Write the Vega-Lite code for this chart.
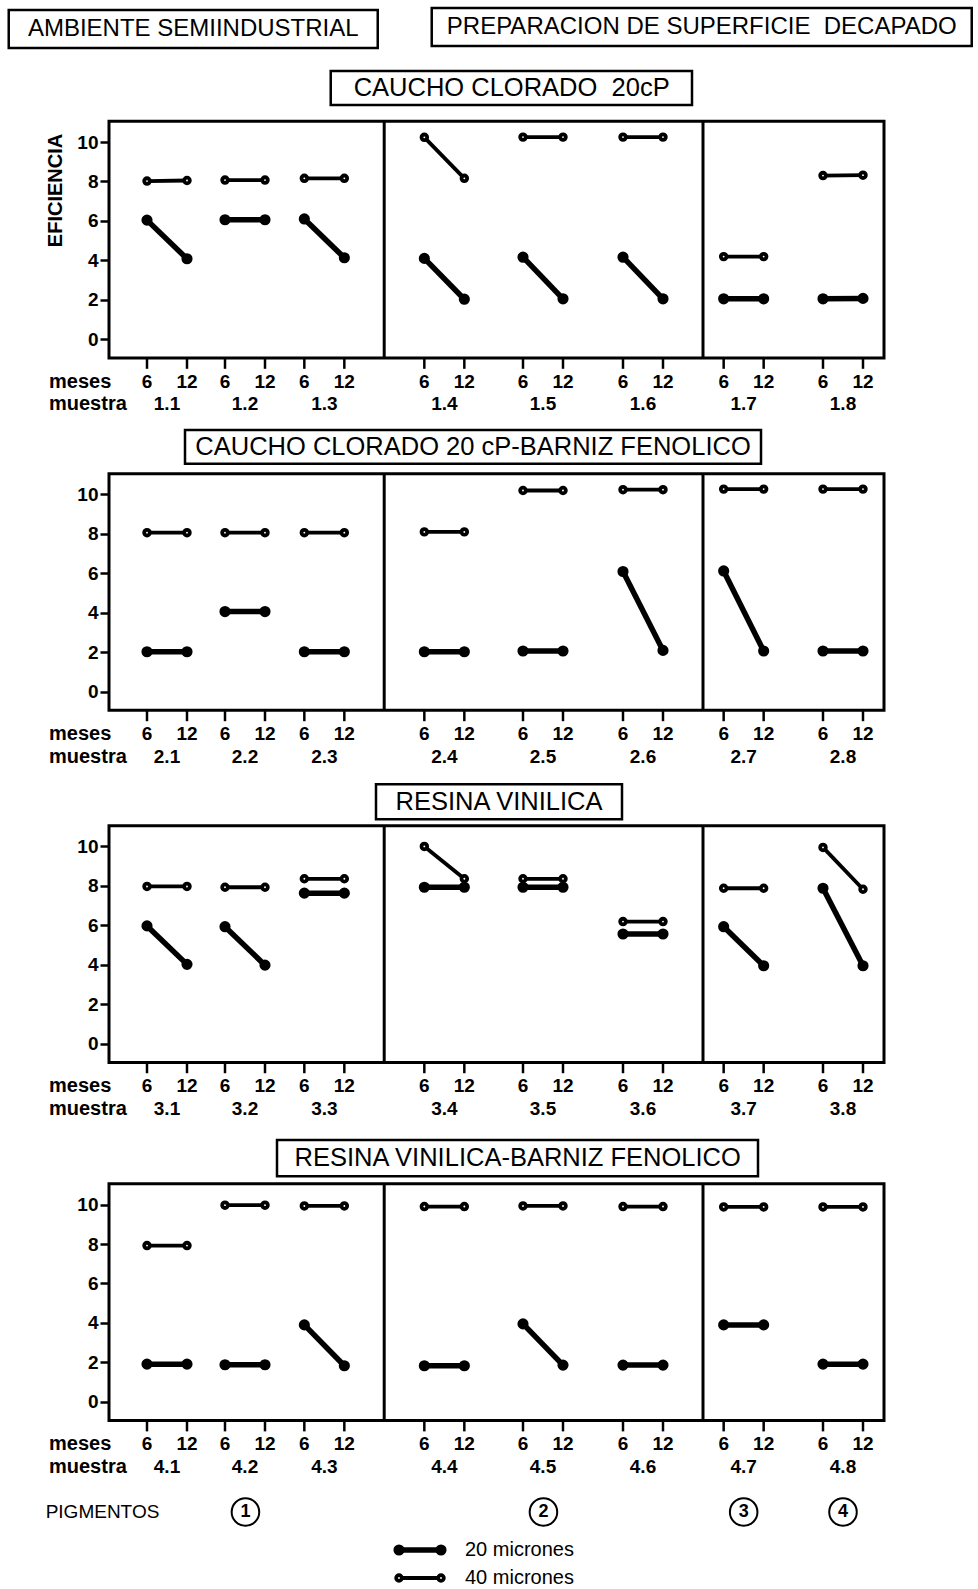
{
"$schema": "https://vega.github.io/schema/vega-lite/v6.json",
"padding": {"left": 7, "top": 4, "right": 5, "bottom": 0},
"spacing": 0,
"config": {
  "view": {"stroke": null},
  "font": "Liberation Sans",
  "axis": {"domain": false, "grid": false, "ticks": true, "tickSize": 9, "tickWidth": 2.5, "tickColor": "black", "labelFont": "Liberation Sans", "labelFontSize": 19, "labelFontWeight": "bold", "labelColor": "black", "labelPadding": 2},
  "text": {"font": "Liberation Sans", "color": "black"}
},
"datasets": {
  "paneles": [
    {"panel": 1, "titulo": "CAUCHO CLORADO\u00a0 20cP"},
    {"panel": 2, "titulo": "CAUCHO CLORADO 20 cP-BARNIZ FENOLICO"},
    {"panel": 3, "titulo": "RESINA VINILICA"},
    {"panel": 4, "titulo": "RESINA VINILICA-BARNIZ FENOLICO"}
  ],
  "leyenda": [{"espesor": "20 micrones"}, {"espesor": "40 micrones"}],
  "lineas": [
    {"panel":1,"muestra":"1.1","pigmento":1,"espesor":"20 micrones","meses":6,"t":5.7,"eficiencia":6.04},
    {"panel":1,"muestra":"1.1","pigmento":1,"espesor":"20 micrones","meses":12,"t":11.7,"eficiencia":4.08},
    {"panel":1,"muestra":"1.1","pigmento":1,"espesor":"40 micrones","meses":6,"t":5.7,"eficiencia":8.02},
    {"panel":1,"muestra":"1.1","pigmento":1,"espesor":"40 micrones","meses":12,"t":11.7,"eficiencia":8.05},
    {"panel":1,"muestra":"1.2","pigmento":1,"espesor":"20 micrones","meses":6,"t":17.4,"eficiencia":6.06},
    {"panel":1,"muestra":"1.2","pigmento":1,"espesor":"20 micrones","meses":12,"t":23.4,"eficiencia":6.06},
    {"panel":1,"muestra":"1.2","pigmento":1,"espesor":"40 micrones","meses":6,"t":17.4,"eficiencia":8.07},
    {"panel":1,"muestra":"1.2","pigmento":1,"espesor":"40 micrones","meses":12,"t":23.4,"eficiencia":8.07},
    {"panel":1,"muestra":"1.3","pigmento":1,"espesor":"20 micrones","meses":6,"t":29.3,"eficiencia":6.1},
    {"panel":1,"muestra":"1.3","pigmento":1,"espesor":"20 micrones","meses":12,"t":35.3,"eficiencia":4.13},
    {"panel":1,"muestra":"1.3","pigmento":1,"espesor":"40 micrones","meses":6,"t":29.3,"eficiencia":8.16},
    {"panel":1,"muestra":"1.3","pigmento":1,"espesor":"40 micrones","meses":12,"t":35.3,"eficiencia":8.16},
    {"panel":1,"muestra":"1.4","pigmento":2,"espesor":"20 micrones","meses":6,"t":47.3,"eficiencia":4.1},
    {"panel":1,"muestra":"1.4","pigmento":2,"espesor":"20 micrones","meses":12,"t":53.3,"eficiencia":2.03},
    {"panel":1,"muestra":"1.4","pigmento":2,"espesor":"40 micrones","meses":6,"t":47.3,"eficiencia":10.24},
    {"panel":1,"muestra":"1.4","pigmento":2,"espesor":"40 micrones","meses":12,"t":53.3,"eficiencia":8.16},
    {"panel":1,"muestra":"1.5","pigmento":2,"espesor":"20 micrones","meses":6,"t":62.1,"eficiencia":4.16},
    {"panel":1,"muestra":"1.5","pigmento":2,"espesor":"20 micrones","meses":12,"t":68.1,"eficiencia":2.05},
    {"panel":1,"muestra":"1.5","pigmento":2,"espesor":"40 micrones","meses":6,"t":62.1,"eficiencia":10.25},
    {"panel":1,"muestra":"1.5","pigmento":2,"espesor":"40 micrones","meses":12,"t":68.1,"eficiencia":10.25},
    {"panel":1,"muestra":"1.6","pigmento":2,"espesor":"20 micrones","meses":6,"t":77.1,"eficiencia":4.16},
    {"panel":1,"muestra":"1.6","pigmento":2,"espesor":"20 micrones","meses":12,"t":83.1,"eficiencia":2.05},
    {"panel":1,"muestra":"1.6","pigmento":2,"espesor":"40 micrones","meses":6,"t":77.1,"eficiencia":10.25},
    {"panel":1,"muestra":"1.6","pigmento":2,"espesor":"40 micrones","meses":12,"t":83.1,"eficiencia":10.25},
    {"panel":1,"muestra":"1.7","pigmento":3,"espesor":"20 micrones","meses":6,"t":92.2,"eficiencia":2.05},
    {"panel":1,"muestra":"1.7","pigmento":3,"espesor":"20 micrones","meses":12,"t":98.2,"eficiencia":2.05},
    {"panel":1,"muestra":"1.7","pigmento":3,"espesor":"40 micrones","meses":6,"t":92.2,"eficiencia":4.19},
    {"panel":1,"muestra":"1.7","pigmento":3,"espesor":"40 micrones","meses":12,"t":98.2,"eficiencia":4.19},
    {"panel":1,"muestra":"1.8","pigmento":4,"espesor":"20 micrones","meses":6,"t":107.1,"eficiencia":2.05},
    {"panel":1,"muestra":"1.8","pigmento":4,"espesor":"20 micrones","meses":12,"t":113.1,"eficiencia":2.07},
    {"panel":1,"muestra":"1.8","pigmento":4,"espesor":"40 micrones","meses":6,"t":107.1,"eficiencia":8.3},
    {"panel":1,"muestra":"1.8","pigmento":4,"espesor":"40 micrones","meses":12,"t":113.1,"eficiencia":8.32},

    {"panel":2,"muestra":"2.1","pigmento":1,"espesor":"20 micrones","meses":6,"t":5.7,"eficiencia":2.02},
    {"panel":2,"muestra":"2.1","pigmento":1,"espesor":"20 micrones","meses":12,"t":11.7,"eficiencia":2.02},
    {"panel":2,"muestra":"2.1","pigmento":1,"espesor":"40 micrones","meses":6,"t":5.7,"eficiencia":8.06},
    {"panel":2,"muestra":"2.1","pigmento":1,"espesor":"40 micrones","meses":12,"t":11.7,"eficiencia":8.06},
    {"panel":2,"muestra":"2.2","pigmento":1,"espesor":"20 micrones","meses":6,"t":17.4,"eficiencia":4.06},
    {"panel":2,"muestra":"2.2","pigmento":1,"espesor":"20 micrones","meses":12,"t":23.4,"eficiencia":4.06},
    {"panel":2,"muestra":"2.2","pigmento":1,"espesor":"40 micrones","meses":6,"t":17.4,"eficiencia":8.06},
    {"panel":2,"muestra":"2.2","pigmento":1,"espesor":"40 micrones","meses":12,"t":23.4,"eficiencia":8.06},
    {"panel":2,"muestra":"2.3","pigmento":1,"espesor":"20 micrones","meses":6,"t":29.3,"eficiencia":2.02},
    {"panel":2,"muestra":"2.3","pigmento":1,"espesor":"20 micrones","meses":12,"t":35.3,"eficiencia":2.02},
    {"panel":2,"muestra":"2.3","pigmento":1,"espesor":"40 micrones","meses":6,"t":29.3,"eficiencia":8.06},
    {"panel":2,"muestra":"2.3","pigmento":1,"espesor":"40 micrones","meses":12,"t":35.3,"eficiencia":8.06},
    {"panel":2,"muestra":"2.4","pigmento":2,"espesor":"20 micrones","meses":6,"t":47.3,"eficiencia":2.02},
    {"panel":2,"muestra":"2.4","pigmento":2,"espesor":"20 micrones","meses":12,"t":53.3,"eficiencia":2.02},
    {"panel":2,"muestra":"2.4","pigmento":2,"espesor":"40 micrones","meses":6,"t":47.3,"eficiencia":8.1},
    {"panel":2,"muestra":"2.4","pigmento":2,"espesor":"40 micrones","meses":12,"t":53.3,"eficiencia":8.1},
    {"panel":2,"muestra":"2.5","pigmento":2,"espesor":"20 micrones","meses":6,"t":62.1,"eficiencia":2.06},
    {"panel":2,"muestra":"2.5","pigmento":2,"espesor":"20 micrones","meses":12,"t":68.1,"eficiencia":2.06},
    {"panel":2,"muestra":"2.5","pigmento":2,"espesor":"40 micrones","meses":6,"t":62.1,"eficiencia":10.2},
    {"panel":2,"muestra":"2.5","pigmento":2,"espesor":"40 micrones","meses":12,"t":68.1,"eficiencia":10.2},
    {"panel":2,"muestra":"2.6","pigmento":2,"espesor":"20 micrones","meses":6,"t":77.1,"eficiencia":6.09},
    {"panel":2,"muestra":"2.6","pigmento":2,"espesor":"20 micrones","meses":12,"t":83.1,"eficiencia":2.09},
    {"panel":2,"muestra":"2.6","pigmento":2,"espesor":"40 micrones","meses":6,"t":77.1,"eficiencia":10.24},
    {"panel":2,"muestra":"2.6","pigmento":2,"espesor":"40 micrones","meses":12,"t":83.1,"eficiencia":10.24},
    {"panel":2,"muestra":"2.7","pigmento":3,"espesor":"20 micrones","meses":6,"t":92.2,"eficiencia":6.12},
    {"panel":2,"muestra":"2.7","pigmento":3,"espesor":"20 micrones","meses":12,"t":98.2,"eficiencia":2.06},
    {"panel":2,"muestra":"2.7","pigmento":3,"espesor":"40 micrones","meses":6,"t":92.2,"eficiencia":10.27},
    {"panel":2,"muestra":"2.7","pigmento":3,"espesor":"40 micrones","meses":12,"t":98.2,"eficiencia":10.27},
    {"panel":2,"muestra":"2.8","pigmento":4,"espesor":"20 micrones","meses":6,"t":107.1,"eficiencia":2.06},
    {"panel":2,"muestra":"2.8","pigmento":4,"espesor":"20 micrones","meses":12,"t":113.1,"eficiencia":2.06},
    {"panel":2,"muestra":"2.8","pigmento":4,"espesor":"40 micrones","meses":6,"t":107.1,"eficiencia":10.27},
    {"panel":2,"muestra":"2.8","pigmento":4,"espesor":"40 micrones","meses":12,"t":113.1,"eficiencia":10.27},

    {"panel":3,"muestra":"3.1","pigmento":1,"espesor":"20 micrones","meses":6,"t":5.7,"eficiencia":5.97},
    {"panel":3,"muestra":"3.1","pigmento":1,"espesor":"20 micrones","meses":12,"t":11.7,"eficiencia":4.02},
    {"panel":3,"muestra":"3.1","pigmento":1,"espesor":"40 micrones","meses":6,"t":5.7,"eficiencia":7.97},
    {"panel":3,"muestra":"3.1","pigmento":1,"espesor":"40 micrones","meses":12,"t":11.7,"eficiencia":7.97},
    {"panel":3,"muestra":"3.2","pigmento":1,"espesor":"20 micrones","meses":6,"t":17.4,"eficiencia":5.93},
    {"panel":3,"muestra":"3.2","pigmento":1,"espesor":"20 micrones","meses":12,"t":23.4,"eficiencia":3.98},
    {"panel":3,"muestra":"3.2","pigmento":1,"espesor":"40 micrones","meses":6,"t":17.4,"eficiencia":7.93},
    {"panel":3,"muestra":"3.2","pigmento":1,"espesor":"40 micrones","meses":12,"t":23.4,"eficiencia":7.93},
    {"panel":3,"muestra":"3.3","pigmento":1,"espesor":"20 micrones","meses":6,"t":29.3,"eficiencia":7.63},
    {"panel":3,"muestra":"3.3","pigmento":1,"espesor":"20 micrones","meses":12,"t":35.3,"eficiencia":7.63},
    {"panel":3,"muestra":"3.3","pigmento":1,"espesor":"40 micrones","meses":6,"t":29.3,"eficiencia":8.36},
    {"panel":3,"muestra":"3.3","pigmento":1,"espesor":"40 micrones","meses":12,"t":35.3,"eficiencia":8.36},
    {"panel":3,"muestra":"3.4","pigmento":2,"espesor":"20 micrones","meses":6,"t":47.3,"eficiencia":7.93},
    {"panel":3,"muestra":"3.4","pigmento":2,"espesor":"20 micrones","meses":12,"t":53.3,"eficiencia":7.93},
    {"panel":3,"muestra":"3.4","pigmento":2,"espesor":"40 micrones","meses":6,"t":47.3,"eficiencia":10.0},
    {"panel":3,"muestra":"3.4","pigmento":2,"espesor":"40 micrones","meses":12,"t":53.3,"eficiencia":8.36},
    {"panel":3,"muestra":"3.5","pigmento":2,"espesor":"20 micrones","meses":6,"t":62.1,"eficiencia":7.93},
    {"panel":3,"muestra":"3.5","pigmento":2,"espesor":"20 micrones","meses":12,"t":68.1,"eficiencia":7.93},
    {"panel":3,"muestra":"3.5","pigmento":2,"espesor":"40 micrones","meses":6,"t":62.1,"eficiencia":8.36},
    {"panel":3,"muestra":"3.5","pigmento":2,"espesor":"40 micrones","meses":12,"t":68.1,"eficiencia":8.36},
    {"panel":3,"muestra":"3.6","pigmento":2,"espesor":"20 micrones","meses":6,"t":77.1,"eficiencia":5.56},
    {"panel":3,"muestra":"3.6","pigmento":2,"espesor":"20 micrones","meses":12,"t":83.1,"eficiencia":5.56},
    {"panel":3,"muestra":"3.6","pigmento":2,"espesor":"40 micrones","meses":6,"t":77.1,"eficiencia":6.19},
    {"panel":3,"muestra":"3.6","pigmento":2,"espesor":"40 micrones","meses":12,"t":83.1,"eficiencia":6.19},
    {"panel":3,"muestra":"3.7","pigmento":3,"espesor":"20 micrones","meses":6,"t":92.2,"eficiencia":5.93},
    {"panel":3,"muestra":"3.7","pigmento":3,"espesor":"20 micrones","meses":12,"t":98.2,"eficiencia":3.95},
    {"panel":3,"muestra":"3.7","pigmento":3,"espesor":"40 micrones","meses":6,"t":92.2,"eficiencia":7.88},
    {"panel":3,"muestra":"3.7","pigmento":3,"espesor":"40 micrones","meses":12,"t":98.2,"eficiencia":7.88},
    {"panel":3,"muestra":"3.8","pigmento":4,"espesor":"20 micrones","meses":6,"t":107.1,"eficiencia":7.88},
    {"panel":3,"muestra":"3.8","pigmento":4,"espesor":"20 micrones","meses":12,"t":113.1,"eficiencia":3.95},
    {"panel":3,"muestra":"3.8","pigmento":4,"espesor":"40 micrones","meses":6,"t":107.1,"eficiencia":9.95},
    {"panel":3,"muestra":"3.8","pigmento":4,"espesor":"40 micrones","meses":12,"t":113.1,"eficiencia":7.83},

    {"panel":4,"muestra":"4.1","pigmento":1,"espesor":"20 micrones","meses":6,"t":5.7,"eficiencia":1.91},
    {"panel":4,"muestra":"4.1","pigmento":1,"espesor":"20 micrones","meses":12,"t":11.7,"eficiencia":1.91},
    {"panel":4,"muestra":"4.1","pigmento":1,"espesor":"40 micrones","meses":6,"t":5.7,"eficiencia":7.92},
    {"panel":4,"muestra":"4.1","pigmento":1,"espesor":"40 micrones","meses":12,"t":11.7,"eficiencia":7.92},
    {"panel":4,"muestra":"4.2","pigmento":1,"espesor":"20 micrones","meses":6,"t":17.4,"eficiencia":1.88},
    {"panel":4,"muestra":"4.2","pigmento":1,"espesor":"20 micrones","meses":12,"t":23.4,"eficiencia":1.88},
    {"panel":4,"muestra":"4.2","pigmento":1,"espesor":"40 micrones","meses":6,"t":17.4,"eficiencia":9.97},
    {"panel":4,"muestra":"4.2","pigmento":1,"espesor":"40 micrones","meses":12,"t":23.4,"eficiencia":9.97},
    {"panel":4,"muestra":"4.3","pigmento":1,"espesor":"20 micrones","meses":6,"t":29.3,"eficiencia":3.9},
    {"panel":4,"muestra":"4.3","pigmento":1,"espesor":"20 micrones","meses":12,"t":35.3,"eficiencia":1.83},
    {"panel":4,"muestra":"4.3","pigmento":1,"espesor":"40 micrones","meses":6,"t":29.3,"eficiencia":9.93},
    {"panel":4,"muestra":"4.3","pigmento":1,"espesor":"40 micrones","meses":12,"t":35.3,"eficiencia":9.93},
    {"panel":4,"muestra":"4.4","pigmento":2,"espesor":"20 micrones","meses":6,"t":47.3,"eficiencia":1.83},
    {"panel":4,"muestra":"4.4","pigmento":2,"espesor":"20 micrones","meses":12,"t":53.3,"eficiencia":1.83},
    {"panel":4,"muestra":"4.4","pigmento":2,"espesor":"40 micrones","meses":6,"t":47.3,"eficiencia":9.9},
    {"panel":4,"muestra":"4.4","pigmento":2,"espesor":"40 micrones","meses":12,"t":53.3,"eficiencia":9.9},
    {"panel":4,"muestra":"4.5","pigmento":2,"espesor":"20 micrones","meses":6,"t":62.1,"eficiencia":3.95},
    {"panel":4,"muestra":"4.5","pigmento":2,"espesor":"20 micrones","meses":12,"t":68.1,"eficiencia":1.86},
    {"panel":4,"muestra":"4.5","pigmento":2,"espesor":"40 micrones","meses":6,"t":62.1,"eficiencia":9.93},
    {"panel":4,"muestra":"4.5","pigmento":2,"espesor":"40 micrones","meses":12,"t":68.1,"eficiencia":9.93},
    {"panel":4,"muestra":"4.6","pigmento":2,"espesor":"20 micrones","meses":6,"t":77.1,"eficiencia":1.86},
    {"panel":4,"muestra":"4.6","pigmento":2,"espesor":"20 micrones","meses":12,"t":83.1,"eficiencia":1.86},
    {"panel":4,"muestra":"4.6","pigmento":2,"espesor":"40 micrones","meses":6,"t":77.1,"eficiencia":9.9},
    {"panel":4,"muestra":"4.6","pigmento":2,"espesor":"40 micrones","meses":12,"t":83.1,"eficiencia":9.9},
    {"panel":4,"muestra":"4.7","pigmento":3,"espesor":"20 micrones","meses":6,"t":92.2,"eficiencia":3.9},
    {"panel":4,"muestra":"4.7","pigmento":3,"espesor":"20 micrones","meses":12,"t":98.2,"eficiencia":3.9},
    {"panel":4,"muestra":"4.7","pigmento":3,"espesor":"40 micrones","meses":6,"t":92.2,"eficiencia":9.88},
    {"panel":4,"muestra":"4.7","pigmento":3,"espesor":"40 micrones","meses":12,"t":98.2,"eficiencia":9.88},
    {"panel":4,"muestra":"4.8","pigmento":4,"espesor":"20 micrones","meses":6,"t":107.1,"eficiencia":1.91},
    {"panel":4,"muestra":"4.8","pigmento":4,"espesor":"20 micrones","meses":12,"t":113.1,"eficiencia":1.91},
    {"panel":4,"muestra":"4.8","pigmento":4,"espesor":"40 micrones","meses":6,"t":107.1,"eficiencia":9.88},
    {"panel":4,"muestra":"4.8","pigmento":4,"espesor":"40 micrones","meses":12,"t":113.1,"eficiencia":9.88}
  ]
},
"vconcat": [
  {
    "width": 775, "height": 422,
    "data": {"name": "paneles"},
    "transform": [{"filter": "datum.panel == 1"}],
    "layer": [
      {"mark": {"type": "rect", "filled": false, "color": "black", "strokeWidth": 3},
       "encoding": {"x": {"datum": 0, "type": "quantitative", "scale": {"domain": [0, 116.25], "nice": false, "zero": false}, "axis": null}, "x2": {"datum": 116.25},
                    "y": {"datum": -0.95, "type": "quantitative", "scale": {"domain": [-4.4, 17.0], "nice": false, "zero": false},
                          "axis": {"values": [0, 2, 4, 6, 8, 10], "title": "EFICIENCIA", "titleX": -54, "titleY": 186, "titleAngle": 270, "titleAlign": "center", "titleBaseline": "middle", "titleFontSize": 20, "titleFontWeight": "bold", "titleColor": "black", "titleFont": "Liberation Sans"}},
                    "y2": {"datum": 11.05}}},
      {"mark": {"type": "rect", "filled": false, "color": "black", "strokeWidth": 2.5},
       "encoding": {"x": {"datum": -15.04, "type": "quantitative", "axis": null}, "x2": {"datum": 40.31}, "y": {"datum": 14.77, "type": "quantitative"}, "y2": {"datum": 16.7}}},
      {"mark": {"type": "text", "fontSize": 24, "baseline": "middle", "align": "center"},
       "encoding": {"x": {"datum": 12.64, "type": "quantitative", "axis": null}, "y": {"datum": 15.73, "type": "quantitative"}, "text": {"value": "AMBIENTE SEMIINDUSTRIAL"}}},
      {"mark": {"type": "rect", "filled": false, "color": "black", "strokeWidth": 2.5},
       "encoding": {"x": {"datum": 48.41, "type": "quantitative", "axis": null}, "x2": {"datum": 129.41}, "y": {"datum": 14.87, "type": "quantitative"}, "y2": {"datum": 16.8}}},
      {"mark": {"type": "text", "fontSize": 24, "baseline": "middle", "align": "center"},
       "encoding": {"x": {"datum": 88.91, "type": "quantitative", "axis": null}, "y": {"datum": 15.83, "type": "quantitative"}, "text": {"value": "PREPARACION DE SUPERFICIE\u00a0 DECAPADO"}}},
      {"mark": {"type": "rule", "color": "black", "strokeWidth": 3},
       "encoding": {"x": {"datum": 41.28, "type": "quantitative", "axis": null}, "y": {"datum": -0.95, "type": "quantitative"}, "y2": {"datum": 11.05}}},
      {"mark": {"type": "rule", "color": "black", "strokeWidth": 3},
       "encoding": {"x": {"datum": 89.1, "type": "quantitative", "axis": null}, "y": {"datum": -0.95, "type": "quantitative"}, "y2": {"datum": 11.05}}},
      {"mark": {"type": "rect", "filled": false, "color": "black", "strokeWidth": 2.5},
       "encoding": {"x": {"datum": 33.26, "type": "quantitative", "axis": null}, "x2": {"datum": 87.45}, "y": {"datum": 11.88, "type": "quantitative"}, "y2": {"datum": 13.6}}},
      {"mark": {"type": "text", "fontSize": 25.5, "baseline": "middle", "align": "center"},
       "encoding": {"x": {"datum": 60.4, "type": "quantitative", "axis": null}, "y": {"datum": 12.74, "type": "quantitative"}, "text": {"field": "titulo"}}},
      {"mark": {"type": "text", "fontSize": 20, "fontWeight": "bold", "align": "left", "baseline": "middle"},
       "encoding": {"x": {"datum": -9, "type": "quantitative", "axis": null}, "y": {"datum": -2.15, "type": "quantitative"}, "text": {"value": "meses"}}},
      {"mark": {"type": "text", "fontSize": 20, "fontWeight": "bold", "align": "left", "baseline": "middle"},
       "encoding": {"x": {"datum": -9, "type": "quantitative", "axis": null}, "y": {"datum": -3.3, "type": "quantitative"}, "text": {"value": "muestra"}}},
      {"data": {"name": "lineas"},
       "transform": [{"filter": "datum.panel == 1"}, {"aggregate": [{"op": "count", "as": "n"}], "groupby": ["t", "meses"]}],
       "layer": [
         {"mark": {"type": "rule", "color": "black", "strokeWidth": 2.5},
          "encoding": {"x": {"field": "t", "type": "quantitative", "axis": null}, "y": {"datum": -0.95, "type": "quantitative"}, "y2": {"datum": -1.5}}},
         {"mark": {"type": "text", "fontSize": 19, "fontWeight": "bold", "baseline": "middle", "align": "center"},
          "encoding": {"x": {"field": "t", "type": "quantitative", "axis": null}, "y": {"datum": -2.15, "type": "quantitative"}, "text": {"field": "meses"}}}
       ]},
      {"data": {"name": "lineas"},
       "transform": [{"filter": "datum.panel == 1"}, {"aggregate": [{"op": "mean", "field": "t", "as": "tc"}], "groupby": ["muestra"]}],
       "mark": {"type": "text", "fontSize": 19, "fontWeight": "bold", "baseline": "middle", "align": "center"},
       "encoding": {"x": {"field": "tc", "type": "quantitative", "axis": null}, "y": {"datum": -3.3, "type": "quantitative"}, "text": {"field": "muestra"}}},
      {"data": {"name": "lineas"},
       "transform": [{"filter": "datum.panel == 1"}],
       "layer": [
         {"mark": {"type": "line", "color": "black"},
          "encoding": {
            "x": {"field": "t", "type": "quantitative", "axis": null},
            "y": {"field": "eficiencia", "type": "quantitative"},
            "detail": {"field": "muestra"},
            "strokeWidth": {"field": "espesor", "type": "nominal", "scale": {"type": "ordinal", "domain": ["20 micrones", "40 micrones"], "range": [5.5, 3.8]}, "legend": null}}},
         {"mark": {"type": "point", "shape": "circle", "filled": true, "stroke": "black", "size": 32, "opacity": 1},
          "encoding": {
            "x": {"field": "t", "type": "quantitative", "axis": null},
            "y": {"field": "eficiencia", "type": "quantitative"},
            "fill": {"field": "espesor", "type": "nominal", "scale": {"domain": ["20 micrones", "40 micrones"], "range": ["black", "white"]}, "legend": null},
            "strokeWidth": {"field": "espesor", "type": "nominal", "scale": {"type": "ordinal", "domain": ["20 micrones", "40 micrones"], "range": [5.5, 3.8]}, "legend": null}}}
       ]}
    ]
  },
  {
    "width": 775, "height": 352,
    "data": {"name": "paneles"},
    "transform": [{"filter": "datum.panel == 2"}],
    "layer": [
      {"mark": {"type": "rect", "filled": false, "color": "black", "strokeWidth": 3},
       "encoding": {"x": {"datum": 0, "type": "quantitative", "scale": {"domain": [0, 116.25], "nice": false, "zero": false}, "axis": null}, "x2": {"datum": 116.25},
                    "y": {"datum": -0.95, "type": "quantitative", "scale": {"domain": [-4.38, 13.47], "nice": false, "zero": false}, "axis": {"values": [0, 2, 4, 6, 8, 10], "title": null}},
                    "y2": {"datum": 11.05}}},
      {"mark": {"type": "rule", "color": "black", "strokeWidth": 3},
       "encoding": {"x": {"datum": 41.28, "type": "quantitative", "axis": null}, "y": {"datum": -0.95, "type": "quantitative"}, "y2": {"datum": 11.05}}},
      {"mark": {"type": "rule", "color": "black", "strokeWidth": 3},
       "encoding": {"x": {"datum": 89.1, "type": "quantitative", "axis": null}, "y": {"datum": -0.95, "type": "quantitative"}, "y2": {"datum": 11.05}}},
      {"mark": {"type": "rect", "filled": false, "color": "black", "strokeWidth": 2.5},
       "encoding": {"x": {"datum": 11.4, "type": "quantitative", "axis": null}, "x2": {"datum": 97.8}, "y": {"datum": 11.55, "type": "quantitative"}, "y2": {"datum": 13.27}}},
      {"mark": {"type": "text", "fontSize": 25.5, "baseline": "middle", "align": "center"},
       "encoding": {"x": {"datum": 54.6, "type": "quantitative", "axis": null}, "y": {"datum": 12.41, "type": "quantitative"}, "text": {"field": "titulo"}}},
      {"mark": {"type": "text", "fontSize": 20, "fontWeight": "bold", "align": "left", "baseline": "middle"},
       "encoding": {"x": {"datum": -9, "type": "quantitative", "axis": null}, "y": {"datum": -2.15, "type": "quantitative"}, "text": {"value": "meses"}}},
      {"mark": {"type": "text", "fontSize": 20, "fontWeight": "bold", "align": "left", "baseline": "middle"},
       "encoding": {"x": {"datum": -9, "type": "quantitative", "axis": null}, "y": {"datum": -3.3, "type": "quantitative"}, "text": {"value": "muestra"}}},
      {"data": {"name": "lineas"},
       "transform": [{"filter": "datum.panel == 2"}, {"aggregate": [{"op": "count", "as": "n"}], "groupby": ["t", "meses"]}],
       "layer": [
         {"mark": {"type": "rule", "color": "black", "strokeWidth": 2.5},
          "encoding": {"x": {"field": "t", "type": "quantitative", "axis": null}, "y": {"datum": -0.95, "type": "quantitative"}, "y2": {"datum": -1.5}}},
         {"mark": {"type": "text", "fontSize": 19, "fontWeight": "bold", "baseline": "middle", "align": "center"},
          "encoding": {"x": {"field": "t", "type": "quantitative", "axis": null}, "y": {"datum": -2.15, "type": "quantitative"}, "text": {"field": "meses"}}}
       ]},
      {"data": {"name": "lineas"},
       "transform": [{"filter": "datum.panel == 2"}, {"aggregate": [{"op": "mean", "field": "t", "as": "tc"}], "groupby": ["muestra"]}],
       "mark": {"type": "text", "fontSize": 19, "fontWeight": "bold", "baseline": "middle", "align": "center"},
       "encoding": {"x": {"field": "tc", "type": "quantitative", "axis": null}, "y": {"datum": -3.3, "type": "quantitative"}, "text": {"field": "muestra"}}},
      {"data": {"name": "lineas"},
       "transform": [{"filter": "datum.panel == 2"}],
       "layer": [
         {"mark": {"type": "line", "color": "black"},
          "encoding": {
            "x": {"field": "t", "type": "quantitative", "axis": null},
            "y": {"field": "eficiencia", "type": "quantitative"},
            "detail": {"field": "muestra"},
            "strokeWidth": {"field": "espesor", "type": "nominal", "scale": {"type": "ordinal", "domain": ["20 micrones", "40 micrones"], "range": [5.5, 3.8]}, "legend": null}}},
         {"mark": {"type": "point", "shape": "circle", "filled": true, "stroke": "black", "size": 32, "opacity": 1},
          "encoding": {
            "x": {"field": "t", "type": "quantitative", "axis": null},
            "y": {"field": "eficiencia", "type": "quantitative"},
            "fill": {"field": "espesor", "type": "nominal", "scale": {"domain": ["20 micrones", "40 micrones"], "range": ["black", "white"]}, "legend": null},
            "strokeWidth": {"field": "espesor", "type": "nominal", "scale": {"type": "ordinal", "domain": ["20 micrones", "40 micrones"], "range": [5.5, 3.8]}, "legend": null}}}
       ]}
    ]
  },
  {
    "width": 775, "height": 354,
    "data": {"name": "paneles"},
    "transform": [{"filter": "datum.panel == 3"}],
    "layer": [
      {"mark": {"type": "rect", "filled": false, "color": "black", "strokeWidth": 3},
       "encoding": {"x": {"datum": 0, "type": "quantitative", "scale": {"domain": [0, 116.25], "nice": false, "zero": false}, "axis": null}, "x2": {"datum": 116.25},
                    "y": {"datum": -0.95, "type": "quantitative", "scale": {"domain": [-4.48, 13.47], "nice": false, "zero": false}, "axis": {"values": [0, 2, 4, 6, 8, 10], "title": null}},
                    "y2": {"datum": 11.05}}},
      {"mark": {"type": "rule", "color": "black", "strokeWidth": 3},
       "encoding": {"x": {"datum": 41.28, "type": "quantitative", "axis": null}, "y": {"datum": -0.95, "type": "quantitative"}, "y2": {"datum": 11.05}}},
      {"mark": {"type": "rule", "color": "black", "strokeWidth": 3},
       "encoding": {"x": {"datum": 89.1, "type": "quantitative", "axis": null}, "y": {"datum": -0.95, "type": "quantitative"}, "y2": {"datum": 11.05}}},
      {"mark": {"type": "rect", "filled": false, "color": "black", "strokeWidth": 2.5},
       "encoding": {"x": {"datum": 40.05, "type": "quantitative", "axis": null}, "x2": {"datum": 76.95}, "y": {"datum": 11.38, "type": "quantitative"}, "y2": {"datum": 13.15}}},
      {"mark": {"type": "text", "fontSize": 25.5, "baseline": "middle", "align": "center"},
       "encoding": {"x": {"datum": 58.5, "type": "quantitative", "axis": null}, "y": {"datum": 12.27, "type": "quantitative"}, "text": {"field": "titulo"}}},
      {"mark": {"type": "text", "fontSize": 20, "fontWeight": "bold", "align": "left", "baseline": "middle"},
       "encoding": {"x": {"datum": -9, "type": "quantitative", "axis": null}, "y": {"datum": -2.15, "type": "quantitative"}, "text": {"value": "meses"}}},
      {"mark": {"type": "text", "fontSize": 20, "fontWeight": "bold", "align": "left", "baseline": "middle"},
       "encoding": {"x": {"datum": -9, "type": "quantitative", "axis": null}, "y": {"datum": -3.3, "type": "quantitative"}, "text": {"value": "muestra"}}},
      {"data": {"name": "lineas"},
       "transform": [{"filter": "datum.panel == 3"}, {"aggregate": [{"op": "count", "as": "n"}], "groupby": ["t", "meses"]}],
       "layer": [
         {"mark": {"type": "rule", "color": "black", "strokeWidth": 2.5},
          "encoding": {"x": {"field": "t", "type": "quantitative", "axis": null}, "y": {"datum": -0.95, "type": "quantitative"}, "y2": {"datum": -1.5}}},
         {"mark": {"type": "text", "fontSize": 19, "fontWeight": "bold", "baseline": "middle", "align": "center"},
          "encoding": {"x": {"field": "t", "type": "quantitative", "axis": null}, "y": {"datum": -2.15, "type": "quantitative"}, "text": {"field": "meses"}}}
       ]},
      {"data": {"name": "lineas"},
       "transform": [{"filter": "datum.panel == 3"}, {"aggregate": [{"op": "mean", "field": "t", "as": "tc"}], "groupby": ["muestra"]}],
       "mark": {"type": "text", "fontSize": 19, "fontWeight": "bold", "baseline": "middle", "align": "center"},
       "encoding": {"x": {"field": "tc", "type": "quantitative", "axis": null}, "y": {"datum": -3.3, "type": "quantitative"}, "text": {"field": "muestra"}}},
      {"data": {"name": "lineas"},
       "transform": [{"filter": "datum.panel == 3"}],
       "layer": [
         {"mark": {"type": "line", "color": "black"},
          "encoding": {
            "x": {"field": "t", "type": "quantitative", "axis": null},
            "y": {"field": "eficiencia", "type": "quantitative"},
            "detail": {"field": "muestra"},
            "strokeWidth": {"field": "espesor", "type": "nominal", "scale": {"type": "ordinal", "domain": ["20 micrones", "40 micrones"], "range": [5.5, 3.8]}, "legend": null}}},
         {"mark": {"type": "point", "shape": "circle", "filled": true, "stroke": "black", "size": 32, "opacity": 1},
          "encoding": {
            "x": {"field": "t", "type": "quantitative", "axis": null},
            "y": {"field": "eficiencia", "type": "quantitative"},
            "fill": {"field": "espesor", "type": "nominal", "scale": {"domain": ["20 micrones", "40 micrones"], "range": ["black", "white"]}, "legend": null},
            "strokeWidth": {"field": "espesor", "type": "nominal", "scale": {"type": "ordinal", "domain": ["20 micrones", "40 micrones"], "range": [5.5, 3.8]}, "legend": null}}}
       ]}
    ]
  },
  {
    "width": 775, "height": 398,
    "data": {"name": "paneles"},
    "transform": [{"filter": "datum.panel == 4"}],
    "layer": [
      {"mark": {"type": "rect", "filled": false, "color": "black", "strokeWidth": 3},
       "encoding": {"x": {"datum": 0, "type": "quantitative", "scale": {"domain": [0, 116.25], "nice": false, "zero": false}, "axis": null}, "x2": {"datum": 116.25},
                    "y": {"datum": -0.95, "type": "quantitative", "scale": {"domain": [-6.5, 13.68], "nice": false, "zero": false}, "axis": {"values": [0, 2, 4, 6, 8, 10], "title": null}},
                    "y2": {"datum": 11.05}}},
      {"mark": {"type": "rule", "color": "black", "strokeWidth": 3},
       "encoding": {"x": {"datum": 41.28, "type": "quantitative", "axis": null}, "y": {"datum": -0.95, "type": "quantitative"}, "y2": {"datum": 11.05}}},
      {"mark": {"type": "rule", "color": "black", "strokeWidth": 3},
       "encoding": {"x": {"datum": 89.1, "type": "quantitative", "axis": null}, "y": {"datum": -0.95, "type": "quantitative"}, "y2": {"datum": 11.05}}},
      {"mark": {"type": "rect", "filled": false, "color": "black", "strokeWidth": 2.5},
       "encoding": {"x": {"datum": 25.2, "type": "quantitative", "axis": null}, "x2": {"datum": 97.35}, "y": {"datum": 11.44, "type": "quantitative"}, "y2": {"datum": 13.27}}},
      {"mark": {"type": "text", "fontSize": 25.5, "baseline": "middle", "align": "center"},
       "encoding": {"x": {"datum": 61.3, "type": "quantitative", "axis": null}, "y": {"datum": 12.36, "type": "quantitative"}, "text": {"field": "titulo"}}},
      {"mark": {"type": "text", "fontSize": 20, "fontWeight": "bold", "align": "left", "baseline": "middle"},
       "encoding": {"x": {"datum": -9, "type": "quantitative", "axis": null}, "y": {"datum": -2.15, "type": "quantitative"}, "text": {"value": "meses"}}},
      {"mark": {"type": "text", "fontSize": 20, "fontWeight": "bold", "align": "left", "baseline": "middle"},
       "encoding": {"x": {"datum": -9, "type": "quantitative", "axis": null}, "y": {"datum": -3.3, "type": "quantitative"}, "text": {"value": "muestra"}}},
      {"mark": {"type": "text", "fontSize": 19, "align": "left", "baseline": "middle"},
       "encoding": {"x": {"datum": -9.5, "type": "quantitative", "axis": null}, "y": {"datum": -5.59, "type": "quantitative"}, "text": {"value": "PIGMENTOS"}}},
      {"data": {"name": "lineas"},
       "transform": [{"filter": "datum.panel == 4"}, {"aggregate": [{"op": "mean", "field": "t", "as": "tp"}], "groupby": ["pigmento"]}],
       "layer": [
         {"mark": {"type": "point", "shape": "circle", "filled": false, "color": "black", "strokeWidth": 2, "size": 760, "opacity": 1},
          "encoding": {"x": {"field": "tp", "type": "quantitative", "axis": null}, "y": {"datum": -5.59, "type": "quantitative"}}},
         {"mark": {"type": "text", "fontSize": 18, "fontWeight": "bold", "baseline": "middle", "align": "center"},
          "encoding": {"x": {"field": "tp", "type": "quantitative", "axis": null}, "y": {"datum": -5.59, "type": "quantitative"}, "text": {"field": "pigmento"}}}
       ]},
      {"data": {"name": "lineas"},
       "transform": [{"filter": "datum.panel == 4"}, {"aggregate": [{"op": "count", "as": "n"}], "groupby": ["t", "meses"]}],
       "layer": [
         {"mark": {"type": "rule", "color": "black", "strokeWidth": 2.5},
          "encoding": {"x": {"field": "t", "type": "quantitative", "axis": null}, "y": {"datum": -0.95, "type": "quantitative"}, "y2": {"datum": -1.5}}},
         {"mark": {"type": "text", "fontSize": 19, "fontWeight": "bold", "baseline": "middle", "align": "center"},
          "encoding": {"x": {"field": "t", "type": "quantitative", "axis": null}, "y": {"datum": -2.15, "type": "quantitative"}, "text": {"field": "meses"}}}
       ]},
      {"data": {"name": "lineas"},
       "transform": [{"filter": "datum.panel == 4"}, {"aggregate": [{"op": "mean", "field": "t", "as": "tc"}], "groupby": ["muestra"]}],
       "mark": {"type": "text", "fontSize": 19, "fontWeight": "bold", "baseline": "middle", "align": "center"},
       "encoding": {"x": {"field": "tc", "type": "quantitative", "axis": null}, "y": {"datum": -3.3, "type": "quantitative"}, "text": {"field": "muestra"}}},
      {"data": {"name": "lineas"},
       "transform": [{"filter": "datum.panel == 4"}],
       "layer": [
         {"mark": {"type": "line", "color": "black"},
          "encoding": {
            "x": {"field": "t", "type": "quantitative", "axis": null},
            "y": {"field": "eficiencia", "type": "quantitative"},
            "detail": {"field": "muestra"},
            "strokeWidth": {"field": "espesor", "type": "nominal", "scale": {"type": "ordinal", "domain": ["20 micrones", "40 micrones"], "range": [5.5, 3.8]}, "legend": null}}},
         {"mark": {"type": "point", "shape": "circle", "filled": true, "stroke": "black", "size": 32, "opacity": 1},
          "encoding": {
            "x": {"field": "t", "type": "quantitative", "axis": null},
            "y": {"field": "eficiencia", "type": "quantitative"},
            "fill": {"field": "espesor", "type": "nominal", "scale": {"domain": ["20 micrones", "40 micrones"], "range": ["black", "white"]}, "legend": null},
            "strokeWidth": {"field": "espesor", "type": "nominal", "scale": {"type": "ordinal", "domain": ["20 micrones", "40 micrones"], "range": [5.5, 3.8]}, "legend": null}}}
       ]}
    ]
  },
  {
    "width": 775, "height": 68,
    "data": {"name": "leyenda"},
    "encoding": {"y": {"field": "espesor", "type": "nominal", "scale": {"type": "point", "domain": ["20 micrones", "40 micrones"], "padding": 0.714}, "axis": null}},
    "layer": [
      {"mark": {"type": "rule", "color": "black"},
       "encoding": {"x": {"datum": 43.5, "type": "quantitative", "scale": {"domain": [0, 116.25], "nice": false, "zero": false}, "axis": null}, "x2": {"datum": 49.8},
                    "strokeWidth": {"field": "espesor", "type": "nominal", "scale": {"type": "ordinal", "domain": ["20 micrones", "40 micrones"], "range": [5.5, 3.8]}, "legend": null}}},
      {"mark": {"type": "point", "shape": "circle", "filled": true, "stroke": "black", "size": 32, "opacity": 1},
       "encoding": {"x": {"datum": 43.5, "type": "quantitative", "axis": null},
                    "fill": {"field": "espesor", "type": "nominal", "scale": {"domain": ["20 micrones", "40 micrones"], "range": ["black", "white"]}, "legend": null},
                    "strokeWidth": {"field": "espesor", "type": "nominal", "scale": {"type": "ordinal", "domain": ["20 micrones", "40 micrones"], "range": [5.5, 3.8]}, "legend": null}}},
      {"mark": {"type": "point", "shape": "circle", "filled": true, "stroke": "black", "size": 32, "opacity": 1},
       "encoding": {"x": {"datum": 49.8, "type": "quantitative", "axis": null},
                    "fill": {"field": "espesor", "type": "nominal", "scale": {"domain": ["20 micrones", "40 micrones"], "range": ["black", "white"]}, "legend": null},
                    "strokeWidth": {"field": "espesor", "type": "nominal", "scale": {"type": "ordinal", "domain": ["20 micrones", "40 micrones"], "range": [5.5, 3.8]}, "legend": null}}},
      {"mark": {"type": "text", "fontSize": 20, "align": "left", "baseline": "middle"},
       "encoding": {"x": {"datum": 53.4, "type": "quantitative", "axis": null}, "text": {"field": "espesor"}}}
    ]
  }
]
}
